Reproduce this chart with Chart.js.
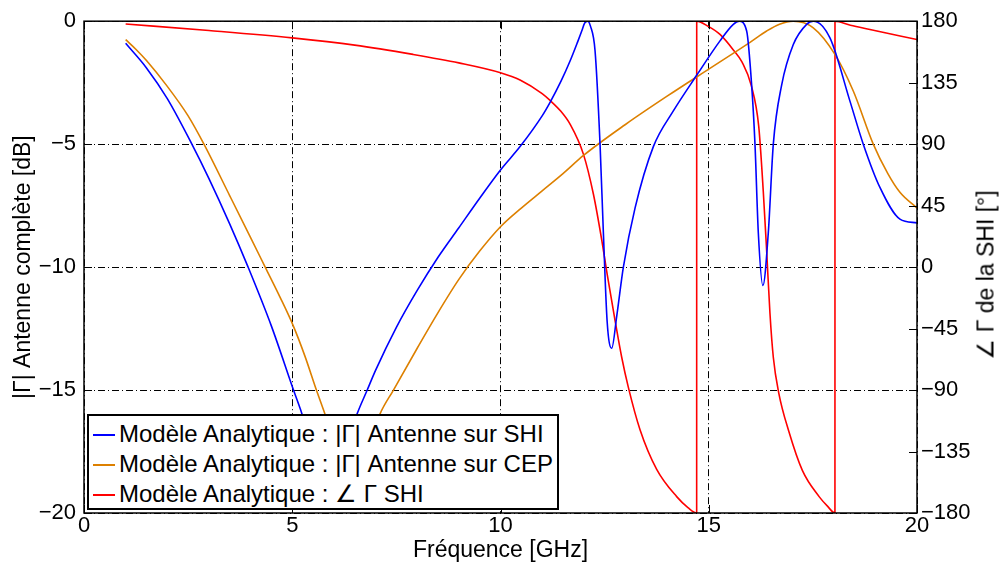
<!DOCTYPE html>
<html>
<head>
<meta charset="utf-8">
<script src="https://cdn.jsdelivr.net/npm/chart.js@4/dist/chart.umd.min.js"></script>
<style>
body { margin: 0; background: #fff; font-family: "Liberation Sans", Arial, sans-serif; }
#wrap { position: relative; width: 1000px; height: 564px; }
#legend { position: absolute; background: #fff; border: 2px solid #000; box-sizing: border-box; padding-top: 3px; }
#legend .row { height: 30px; line-height: 30px; font-size: 24px; white-space: nowrap; color: #000; }
#legend .swatch { display: inline-block; width: 22px; height: 0; border-top: 2px solid; vertical-align: middle; margin: 0 4px 0 4px; position: relative; top: -1px; }
#rtitle { position: absolute; font-size: 23px; white-space: nowrap; transform: translate(-50%, -50%) rotate(-90deg); color: #000; }
</style>
</head>
<body>
<div id="wrap">
<canvas id="mycanvas" width="1000" height="564"></canvas>
<div id="legend"></div>
<div id="rtitle">∠ Γ de la SHI [°]</div>
</div>
<script>
// |Gamma| antenne sur SHI (dB)
var blueFreq = [1, 1.5, 2, 2.59, 3, 3.5, 3.94, 4.5, 5.03, 5.23, 5.5, 5.87, 6.2, 6.55, 6.8, 7.0, 7.5, 8.0, 8.5, 9.0, 9.5, 10.0, 10.47, 11.0, 11.19, 11.45, 11.67, 11.85, 11.95, 12.02, 12.09, 12.16, 12.27, 12.39, 12.47, 12.56, 12.67, 12.79, 12.95, 13.23, 13.67, 14.15, 14.71, 15.27, 15.59, 15.73, 15.91, 16.03, 16.11, 16.19, 16.30, 16.43, 16.55, 16.75, 17.03, 17.35, 17.51, 17.91, 18.39, 18.71, 19.11, 19.59, 20];
var blueDb = [-0.9, -1.9, -3.15, -5, -6.4, -8.25, -10, -12.4, -15, -15.95, -17.4, -19.5, -17.8, -16, -15, -14.2, -12.45, -10.95, -9.6, -8.4, -7.2, -6.05, -5.1, -3.85, -3.3, -2.45, -1.62, -0.85, -0.4, -0.08, 0, -0.2, -1.2, -5, -8.6, -12.2, -13.3, -12.0, -10.0, -7.6, -5.1, -3.65, -2.2, -0.8, -0.13, 0, -0.4, -2.6, -5, -8.6, -10.75, -8.6, -5, -2.6, -0.95, -0.13, 0, -0.68, -3.25, -5, -6.76, -8.05, -8.2];

// |Gamma| antenne sur CEP (dB)
var orangeFreq = [1, 1.25, 1.5, 2, 2.5, 2.88, 3.5, 4, 4.35, 4.7, 5.02, 5.3, 5.58, 5.79, 6.1, 6.45, 6.8, 7.1, 7.43, 8.0, 8.5, 9.0, 9.5, 10.0, 10.5, 11.0, 11.5, 12.0, 13.0, 14.0, 15.0, 15.67, 16.0, 16.39, 16.7, 17.03, 17.51, 18.03, 18.47, 18.95, 19.3, 19.59, 20];
var orangeDb = [-0.75, -1.15, -1.6, -2.65, -3.85, -5, -7.1, -8.8, -10, -11.2, -12.37, -13.6, -15, -16, -17.6, -19, -17.5, -16, -15, -13.3, -11.85, -10.5, -9.35, -8.36, -7.6, -6.9, -6.2, -5.45, -4.2, -3.05, -1.95, -1.22, -0.85, -0.4, -0.12, 0, -0.27, -1.35, -2.84, -5, -6.2, -6.96, -7.6];

// phase de Gamma SHI (deg)
var redFreq = [1, 3, 5, 6.5, 7.9, 9, 10, 10.47, 11.0, 11.19, 11.45, 11.67, 11.99, 12.23, 12.43, 12.56, 12.75, 12.91, 13.07, 13.35, 13.75, 14.23, 14.5, 14.71, 14.711, 15.0, 15.27, 15.59, 15.8, 16.02, 16.2, 16.31, 16.39, 16.47, 16.55, 16.68, 16.92, 17.25, 17.65, 17.85, 18.03, 18.031, 18.4, 18.87, 20];
var redDeg = [178, 173.2, 167.8, 162.5, 155.7, 149.5, 142.3, 137, 127, 122, 114, 104.6, 82.7, 53.5, 20, -5, -39, -66, -88, -119, -148, -168, -176, -180, 180, 176, 170.3, 159, 150, 133, 103, 55, 12, -34, -66, -92, -120, -149, -168, -175, -180, 180, 177, 173.9, 166.6];

var xTicks = [0, 5, 10, 15, 20];
var yTicks = [-20, -15, -10, -5, 0];
var y2Ticks = [-180, -135, -90, -45, 0, 45, 90, 135, 180];

var labels = [
	'Modèle Analytique : |Γ| Antenne sur SHI',
	'Modèle Analytique : |Γ| Antenne sur CEP',
	'Modèle Analytique : ∠ Γ SHI'
];
var colors = ['#0000ff', '#dd8000', '#ff0000'];

function pts(xs, ys) {
	var out = [];
	for (var i in xs) {
		out.push({x: xs[i], y: ys[i]});
	}
	return out;
}

function minus(v) {
	return String(v).replace('-', '\u2212');
}

Chart.defaults.font.family = "'Liberation Sans', Arial, sans-serif";
Chart.defaults.color = '#000';

// box round the plot plus little inward ticks, like matlab
var boxPlugin = {
	id: 'box',
	afterDraw: function(chart) {
		var c = chart.ctx, a = chart.chartArea;
		var sx = chart.scales.x, sy = chart.scales.y, sy2 = chart.scales.y2;
		c.save();
		c.strokeStyle = '#000';
		c.lineWidth = 1;
		c.beginPath();
		xTicks.forEach(function(v) {
			var p = Math.round(sx.getPixelForValue(v)) + 0.5;
			c.moveTo(p, a.bottom); c.lineTo(p, a.bottom - 8);
			c.moveTo(p, a.top); c.lineTo(p, a.top + 8);
		});
		yTicks.forEach(function(v) {
			var p = Math.round(sy.getPixelForValue(v)) + 0.5;
			c.moveTo(a.left, p); c.lineTo(a.left + 8, p);
		});
		y2Ticks.forEach(function(v) {
			var p = Math.round(sy2.getPixelForValue(v)) + 0.5;
			c.moveTo(a.right, p); c.lineTo(a.right - 8, p);
		});
		c.stroke();
		c.lineWidth = 1.5;
		c.strokeRect(a.left, a.top, a.right - a.left, a.bottom - a.top);
		c.restore();
	}
};

var ctx = document.getElementById('mycanvas');

var chart = new Chart(ctx, {
	type: 'line',
	data: {
		datasets: [
			{label: labels[0], data: pts(blueFreq, blueDb), borderColor: colors[0], yAxisID: 'y'},
			{label: labels[1], data: pts(orangeFreq, orangeDb), borderColor: colors[1], yAxisID: 'y'},
			{label: labels[2], data: pts(redFreq, redDeg), borderColor: colors[2], yAxisID: 'y2'}
		]
	},
	options: {
		responsive: false,
		animation: false,
		layout: {padding: {top: 20, left: 0, right: 0, bottom: 0}},
		elements: {
			point: {radius: 0},
			line: {borderWidth: 1.6, cubicInterpolationMode: 'monotone', fill: false}
		},
		plugins: {
			legend: {display: false},
			tooltip: {enabled: false}
		},
		scales: {
			x: {
				type: 'linear', min: 0, max: 20,
				afterBuildTicks: function(s) { s.ticks = xTicks.map(function(v) { return {value: v}; }); },
				ticks: {font: {size: 22}, padding: 0, maxRotation: 0},
				grid: {color: '#000', drawTicks: false, lineWidth: 1},
				border: {display: false, dash: [7, 3, 1, 3]},
				title: {display: true, text: 'Fréquence [GHz]', font: {size: 23}, padding: {top: 0, bottom: 0}},
				afterFit: function(s) { s.height = 51; }
			},
			y: {
				position: 'left', min: -20, max: 0,
				afterBuildTicks: function(s) { s.ticks = yTicks.map(function(v) { return {value: v}; }); },
				ticks: {font: {size: 22}, padding: 8, callback: function(v) { return minus(v); }},
				grid: {color: '#000', drawTicks: false, lineWidth: 1},
				border: {display: false, dash: [7, 3, 1, 3]},
				title: {display: true, text: '|Γ| Antenne complète [dB]', font: {size: 23}, padding: {top: 10, bottom: 0}},
				afterFit: function(s) { s.width = 84; }
			},
			y2: {
				position: 'right', min: -180, max: 180,
				afterBuildTicks: function(s) { s.ticks = y2Ticks.map(function(v) { return {value: v}; }); },
				ticks: {font: {size: 22}, padding: 4, callback: function(v) { return minus(v); }},
				grid: {display: false, drawTicks: false},
				border: {display: false},
				afterFit: function(s) { s.width = 83; }
			}
		}
	},
	plugins: [boxPlugin]
});

// legend box drawn in html over the lower left of the plot
var area = chart.chartArea;
var leg = document.getElementById('legend');
leg.style.left = (area.left + 3) + 'px';
leg.style.top = (area.bottom - 99) + 'px';
leg.style.width = '472px';
leg.style.height = '96px';
chart.data.datasets.forEach(function(d) {
	var row = document.createElement('div');
	row.className = 'row';
	var sw = document.createElement('span');
	sw.className = 'swatch';
	sw.style.borderColor = d.borderColor;
	row.appendChild(sw);
	row.appendChild(document.createTextNode(d.label));
	leg.appendChild(row);
});

var rt = document.getElementById('rtitle');
rt.style.left = (area.right + 69) + 'px';
rt.style.top = ((area.top + area.bottom) / 2 + 8) + 'px';
</script>
</body>
</html>
